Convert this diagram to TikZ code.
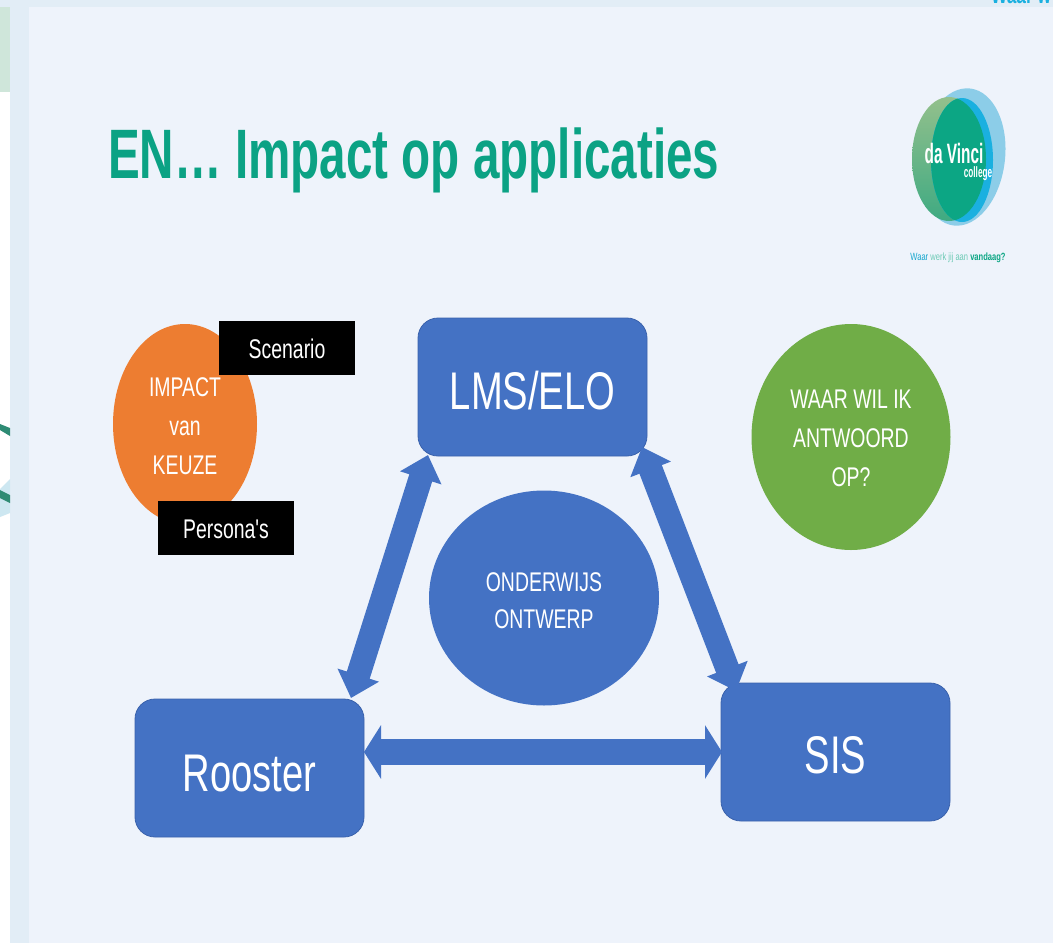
\documentclass[tikz,border=0pt]{standalone}
\usepackage{fontspec}
\setmainfont{Liberation Sans}
\newfontfamily\cond[FakeStretch=0.72]{Liberation Sans}
\newfontfamily\condt[FakeStretch=0.68]{Liberation Sans}
\newfontfamily\narr[FakeStretch=0.55]{Liberation Sans}
\usetikzlibrary{arrows.meta,positioning,shapes.geometric}
\definecolor{strip}{HTML}{E2EDF6}
\definecolor{slide}{HTML}{EEF3FB}
\definecolor{mint}{HTML}{CFE6DA}
\definecolor{boxblue}{HTML}{4472C4}
\definecolor{edgeblue}{HTML}{3A62AC}
\definecolor{orangec}{HTML}{ED7D31}
\definecolor{greenc}{HTML}{70AD47}
\definecolor{titlec}{HTML}{0BA284}
\definecolor{logoblue}{HTML}{8CCDE8}
\definecolor{logocyan}{HTML}{1AB0E0}
\definecolor{logoteal}{HTML}{0CA684}
\definecolor{logotop}{HTML}{93C08C}
\definecolor{logolow}{HTML}{3FAA82}
\definecolor{edgeteal}{HTML}{2E8B74}
\newcommand{\lowered}[2]{\raisebox{-#1pt}[0pt][0pt]{#2}}
\tikzset{
  x=1pt,y=-1pt,
  appbox/.style={draw=edgeblue,line width=.8pt,fill=boxblue,rounded corners=20pt,minimum width=229pt,minimum height=138pt,text=white,inner sep=0pt,font=\cond\fontsize{53}{56}\selectfont},
  blob/.style={ellipse,fill=#1,text=white,inner sep=0pt,align=center,font=\cond\fontsize{27}{39}\selectfont},
  tag/.style={fill=black,text=white,minimum width=136pt,minimum height=54pt,inner sep=0pt,font=\cond\fontsize{27}{32}\selectfont},
  linkd/.style={draw=boxblue,line width=24pt,{Triangle[length=24pt,width=42pt,fill=boxblue]}-{Triangle[length=24pt,width=42pt,fill=boxblue]}},
  linkh/.style={draw=boxblue,line width=26pt,{Triangle[length=17pt,width=53pt,fill=boxblue]}-{Triangle[length=17pt,width=53pt,fill=boxblue]}},
}
\begin{document}
\begin{tikzpicture}
\useasboundingbox (0,0) rectangle (1053,943);
% page backdrop
\fill[white] (0,0) rectangle (1053,943);
\fill[strip] (0,0) rectangle (1053,7);
\fill[strip] (10,0) rectangle (29,943);
\fill[mint] (0,7) rectangle (10,92);
\fill[slide] (29,7) rectangle (1053,943);
% decorations at the left edge
\fill[cyan!12!white!90!teal] (0,489) -- (10,479) -- (10,513) -- (0,517) -- cycle;
\fill[edgeteal] (0,424) -- (10,428) -- (10,436) -- (0,430) -- cycle;
\fill[edgeteal] (0,490) -- (10,495) -- (10,503) -- (0,498) -- cycle;
% cut-off heading, top right
\begin{scope}
\clip (980,0) rectangle (1053,7);
\node[anchor=base west,inner sep=0pt,text=logocyan,font=\cond\bfseries\fontsize{24}{24}\selectfont] (cut) at (991,3) {Waar w};
\end{scope}
% title
\node[anchor=base west,inner sep=0pt,text=titlec,font=\condt\bfseries\fontsize{70}{72}\selectfont] (title) at (108,178) {EN… Impact op applicaties};
% logo
\fill[logoblue] (962,157) ellipse [x radius=43,y radius=69,rotate=-7];
\shade[top color=logotop,bottom color=logolow] (949,159) ellipse [x radius=37,y radius=62];
\fill[logocyan] (962,160) ellipse [x radius=31,y radius=62];
\begin{scope}
\clip (949,159) ellipse [x radius=37,y radius=62];
\fill[logoteal] (962,160) ellipse [x radius=31,y radius=62];
\end{scope}
\node[anchor=base,inner sep=0pt,text=white,font=\narr\bfseries\fontsize{28}{30}\selectfont] (logoa) at (954,163) {da Vinci};
\node[anchor=base,inner sep=0pt,text=white,font=\narr\bfseries\fontsize{15}{16}\selectfont] (logob) at (978,177) {college};
\node[inner sep=0pt,font=\cond\fontsize{10.5}{11}\selectfont] (logoc) at (958,258) {\textcolor{logocyan!80!teal}{Waar} \textcolor{logoteal!60!white}{werk jij aan} \textcolor{logoteal}{\bfseries vandaag?}};
% main nodes
\node[appbox] (lms) at (532.5,387) {\lowered{22}{LMS/ELO}};
\node[appbox] (roo) at (249.5,768) {\lowered{23}{Rooster}};
\node[appbox] (sis) at (835.5,752) {\lowered{21}{SIS}};
\node[blob=boxblue,minimum width=230pt,minimum height=215pt,font=\cond\fontsize{27}{37}\selectfont] (ond) at (544,598) {\rule{0pt}{24pt}ONDERWIJS\\ONTWERP};
\node[blob=greenc,minimum width=199pt,minimum height=226pt] (vra) at (851,437) {\rule{0pt}{22pt}WAAR WIL IK\\ANTWOORD\\OP?};
\node[blob=orangec,minimum width=144pt,minimum height=200pt] (imp) at (185,424) {\rule{0pt}{24pt}IMPACT\\van\\KEUZE};
\node[tag] (sce) at (287,348) {\lowered{10}{Scenario}};
\node[tag] (per) at (226,528) {\lowered{10}{Persona's}};
% connectors
\coordinate (lmsL) at (428,455);
\coordinate (rooT) at (351,698);
\coordinate (lmsR) at (642,447);
\coordinate (sisT) at (736,691);
\coordinate (rooR) at (364,752);
\coordinate (sisL) at (722,752);
\draw[linkd] (lmsL) -- (rooT);
\draw[linkd] (lmsR) -- (sisT);
\draw[linkh] (rooR) -- (sisL);
\end{tikzpicture}
\end{document}
